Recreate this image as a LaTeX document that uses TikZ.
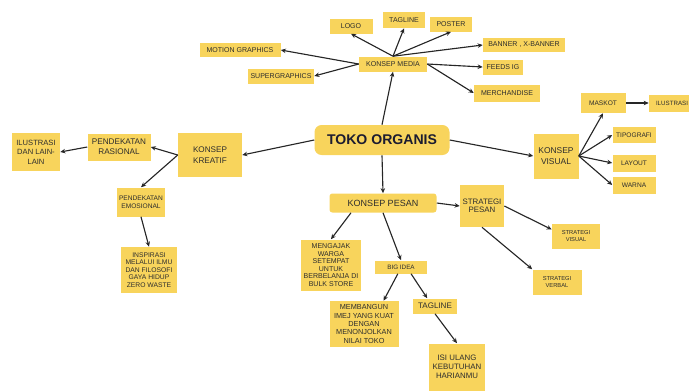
\documentclass[tikz,border=0pt]{standalone}
\usepackage{fontspec}
\setmainfont{Liberation Sans}
\usepackage{xcolor}
\usetikzlibrary{arrows.meta, positioning, calc}

\definecolor{boxyellow}{RGB}{248,212,92}
\definecolor{txtgray}{RGB}{45,45,45}
\definecolor{titlenavy}{RGB}{28,28,48}

\begin{document}
\begin{tikzpicture}[x=0.025cm, y=-0.025cm,
  box/.style={fill=boxyellow, inner sep=0pt, align=center, text=txtgray},
  sz/.style 2 args={minimum width=#1*0.025cm, minimum height=#2*0.025cm},
  fa/.style={font=\fontsize{4.1}{5.2}\selectfont},
  fb/.style={font=\fontsize{5}{5.6}\selectfont},
  fc/.style={font=\fontsize{5.8}{7.4}\selectfont},
  arr/.style={-{Stealth[length=3.6pt,width=3.2pt]}, line width=0.8pt, black!85}]
  \useasboundingbox (0,0) rectangle (689,390);

  % pusat
  \node[box, rounded corners=5pt, sz={135}{30}, text=titlenavy,
        font=\fontsize{10}{12}\selectfont\bfseries] (toko) at (382,140) {TOKO ORGANIS};

  % konsep media
  \node[box, fb, sz={68}{15}] (km) at (393,64) {KONSEP MEDIA};
  \node[box, fb, sz={43}{15}] (logo) at (351,26) {LOGO};
  \node[box, fb, sz={42}{16}] (tagl) at (404,20) {TAGLINE};
  \node[box, fb, sz={42}{15}] (poster) at (451,24) {POSTER};
  \node[box, fb, sz={82}{14}] (banner) at (524,45) {BANNER , X-BANNER};
  \node[box, fb, sz={81}{14}] (motion) at (240,50) {MOTION GRAPHICS};
  \node[box, fb, sz={66}{15}] (super) at (281,76) {SUPERGRAPHICS};
  \node[box, fb, sz={40}{15}] (feeds) at (503,67) {FEEDS IG};
  \node[box, fb, sz={66}{17}] (merch) at (507,93) {MERCHANDISE};

  % konsep kreatif
  \node[box, fc, sz={64}{44}] (kreatif) at (210,155) {KONSEP\\KREATIF};
  \node[box, fc, sz={63}{27}] (rasional) at (119,147) {PENDEKATAN\\RASIONAL};
  \node[box, fc, sz={48}{38}, font=\fontsize{5.4}{6.8}\selectfont] (lain) at (36,152) {ILUSTRASI\\DAN LAIN-\\LAIN};
  \node[box, fb, sz={48}{29}, font=\fontsize{4.7}{5.6}\selectfont] (emosi) at (141,202) {PENDEKATAN\\EMOSIONAL};
  \node[box, fb, sz={56}{46}, font=\fontsize{4.8}{5.3}\selectfont] (inspi) at (149,270) {INSPIRASI\\MELALUI ILMU\\DAN FILOSOFI\\GAYA HIDUP\\ZERO WASTE};

  % konsep visual
  \node[box, fc, sz={45}{45}, font=\fontsize{6}{7.6}\selectfont] (visual) at (556,156) {KONSEP\\VISUAL};
  \node[box, fb, sz={45}{20}, font=\fontsize{4.7}{5.6}\selectfont] (maskot) at (603,103) {MASKOT};
  \node[box, fb, sz={46}{17}, font=\fontsize{4.4}{5.4}\selectfont] (ilus) at (672,103) {ILUSTRASI};
  \node[box, fb, sz={43}{16}, font=\fontsize{4.7}{5.6}\selectfont] (tipo) at (634,135) {TIPOGRAFI};
  \node[box, fb, sz={43}{17}, font=\fontsize{4.7}{5.6}\selectfont] (layout) at (634,163) {LAYOUT};
  \node[box, fb, sz={43}{17}, font=\fontsize{4.7}{5.6}\selectfont] (warna) at (634,185) {WARNA};

  % konsep pesan
  \node[box, rounded corners=2pt, sz={107}{19}, font=\fontsize{6.4}{7.6}\selectfont] (pesan) at (383,203) {KONSEP PESAN};
  \node[box, fc, sz={44}{42}, font=\fontsize{5.6}{6}\selectfont] (strat) at (482,206) {STRATEGI\\PESAN};
  \node[box, fa, sz={48}{25}] (svis) at (576,236) {STRATEGI\\VISUAL};
  \node[box, fa, sz={49}{25}] (sverb) at (557,282) {STRATEGI\\VERBAL};
  \node[box, fb, sz={60}{51}, font=\fontsize{5}{5.3}\selectfont] (ajak) at (331,265) {MENGAJAK\\WARGA\\SETEMPAT\\UNTUK\\BERBELANJA DI\\BULK STORE};
  \node[box, fa, sz={52}{13}, font=\fontsize{4.5}{5.4}\selectfont] (bigidea) at (401,267) {BIG IDEA};
  \node[box, fb, sz={69}{46}, font=\fontsize{5.2}{5.9}\selectfont] (bangun) at (364,324) {MEMBANGUN\\IMEJ YANG KUAT\\DENGAN\\MENONJOLKAN\\NILAI TOKO};
  \node[box, fc, sz={44}{15}, font=\fontsize{5.7}{6.8}\selectfont] (tagl2) at (435,306) {TAGLINE};
  \node[box, fc, sz={56}{47}, font=\fontsize{5.6}{6.5}\selectfont] (isi) at (457,367) {ISI ULANG\\KEBUTUHAN\\HARIANMU};

  % panah
  \draw[arr] (toko.north) -- (km.south);
  \draw[arr] (km.north) -- (logo.south);
  \draw[arr] (km.north) -- (tagl.south);
  \draw[arr] (km.north) -- (poster.south);
  \draw[arr] (km.north) -- (banner.west);
  \draw[arr] (km.west) -- (motion.east);
  \draw[arr] (km.west) -- (super.east);
  \draw[arr] (km.east) -- (feeds.west);
  \draw[arr] (km.east) -- (merch.west);

  \draw[arr] (toko.west) -- (kreatif.east);
  \draw[arr] (kreatif.west) -- (rasional.east);
  \draw[arr] (kreatif.west) -- (emosi.north);
  \draw[arr] (rasional.west) -- (lain.east);
  \draw[arr] (emosi.south) -- (inspi.north);

  \draw[arr] (toko.east) -- (visual.west);
  \draw[arr] (visual.east) -- (maskot.south);
  \draw[arr] (visual.east) -- (tipo.west);
  \draw[arr] (visual.east) -- (layout.west);
  \draw[arr] (visual.east) -- (warna.west);
  \draw[arr] (maskot.east) -- (ilus.west);

  \draw[arr] (toko.south) -- (pesan.north);
  \draw[arr] (pesan.east) -- (strat.west);
  \draw[arr] (pesan.197) -- (ajak.north);
  \draw[arr] (pesan.south) -- (bigidea.north);
  \draw[arr] (bigidea.245) -- (bangun.50);
  \draw[arr] (bigidea.-34) -- (tagl2.135);
  \draw[arr] (tagl2.south) -- (isi.north);
  \draw[arr] (strat.east) -- (svis.165);
  \draw[arr] (strat.south) -- (sverb.north west);
\end{tikzpicture}
\end{document}
